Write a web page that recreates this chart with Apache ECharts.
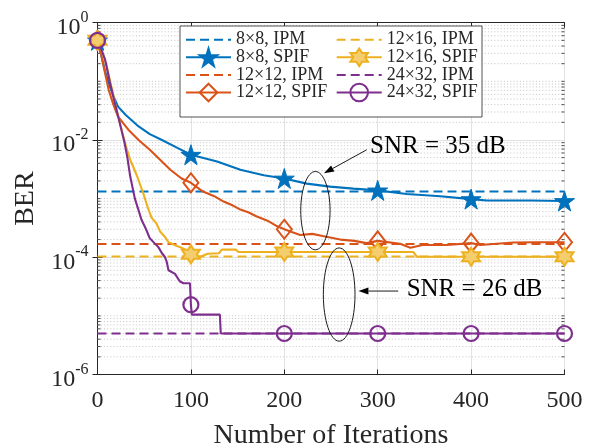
<!DOCTYPE html>
<html><head><meta charset="utf-8">
<script src="https://cdn.jsdelivr.net/npm/echarts@6/dist/echarts.min.js"></script>
<style>html,body{margin:0;padding:0;background:#fff;}#c{width:590px;height:447px;}</style>
</head><body><div id="c"></div>
<script>
// ---------- data ----------
const seriesNames = ['8×8, IPM','8×8, SPIF','12×12, IPM','12×12, SPIF','12×16, IPM','12×16, SPIF','24×32, IPM','24×32, SPIF'];
const xRange = [0, 500];
const xTicks = [0, 100, 200, 300, 400, 500];
const yTickExponents = [0, -2, -4, -6];
const markerIters = [0, 100, 200, 300, 400, 500];

const ipm8x8 = 1.32e-3;
const ipm12x12 = 1.68e-4;
const ipm12x16 = 1.03e-4;
const ipm24x32 = 5.0e-6;

const spif8x8Iter = [0,4,8,12,17,22,30,44,56,69,85,100,128,153,178,200,224,249,274,300,331,367,400,417,463,500];
const spif8x8Ber  = [0.5,0.28,0.15,0.093,0.056,0.037,0.027,0.017,0.0126,0.010,0.0074,0.0056,0.0043,0.0031,0.0025,0.0022,0.0018,0.0016,0.00148,0.00138,0.0012,0.0011,0.00098,0.00093,0.00093,0.00091];

const spif12x12Iter = [0,4,8,12,17,22,33,44,56,67,78,90,100,113,125,135,145,153,162,170,182,192,200,208,217,230,241,260,275,288,300,324,335,348,374,400,410,445,470,500];
const spif12x12Ber  = [0.5,0.28,0.14,0.071,0.040,0.025,0.015,0.010,0.0068,0.0046,0.0031,0.0022,0.00186,0.00132,0.0011,0.00089,0.00076,0.00065,0.00058,0.0005,0.00042,0.00034,0.0003,0.00027,0.00024,0.00025,0.00023,0.0002,0.00019,0.000174,0.00019,0.00017,0.000145,0.000162,0.000162,0.000174,0.000162,0.000178,0.00018,0.00018];

const spif12x16Iter = [0,5,10,15,20,25,30,35,42,49,54,58,63,67,72,76,85,90,96,100,110,118,130,133,148,151,200,300,338,342,400,500];
const spif12x16Ber  = [0.5,0.316,0.178,0.079,0.035,0.0166,0.0083,0.0046,0.0025,0.00123,0.00069,0.00047,0.00038,0.000275,0.000224,0.00018,0.000155,0.000145,0.000129,0.000112,0.000102,0.000115,0.000117,0.000135,0.000135,0.000123,0.000123,0.000123,0.000123,0.000102,0.000102,0.000102];

const spif24x32Iter = [0,4,8,13,19,24,29,32,35,40,44,47,52,56,61,65,69,72,74,76,78,83,88,92,99,100,101,131,132,200,300,400,500];
const spif24x32Ber  = [0.5,0.35,0.24,0.1,0.04,0.019,0.0089,0.005,0.0024,0.001,0.00063,0.00044,0.0003,0.00021,0.000174,0.00015,0.000117,0.000102,0.000085,0.00006,0.000057,0.000052,0.000039,0.000036,0.000036,0.0000155,0.0000105,0.0000105,0.000005,0.000005,0.000005,0.000005,0.000005];

// annotations (data coordinates)
const annoText35 = ['SNR = 35 dB', 291.8, 7.7e-3];
const annoText26 = ['SNR = 26 dB', 331, 2.8e-5];
const annoArrow35 = [[288.2, 6.8e-3], [242.5, 2.7e-3]];
const annoArrow26 = [[322, 2.65e-5], [279.4, 2.65e-5]];
const annoEllipse35 = [[217.6, 249], [2.9e-3, 1.34e-4]];
const annoEllipse26 = [[241.8, 275.7], [1.44e-4, 3.7e-6]];

// ---------- styling ----------
const FONT = 'Liberation Serif';
const TXT = '#262626';
const C = { blue: '#0072BD', orange: '#D95319', yellow: '#EDB120', purple: '#7E2F8E' };
const STAR = 'path://M50 0L61.2 34.5L97.6 34.5L68.2 55.9L79.4 90.5L50 69.1L20.6 90.5L31.8 55.9L2.4 34.5L38.8 34.5Z';
const HEX = 'path://M50 0L64.4 25L93.3 25L78.9 50L93.3 75L64.4 75L50 100L35.6 75L6.7 75L21.1 50L6.7 25L35.6 25Z';

function pairs(xs, ys) { return xs.map((x, i) => [x, ys[i]]); }
function withMarkers(xs, ys) {
  return xs.map((x, i) => markerIters.indexOf(x) >= 0 ? { value: [x, ys[i]] } : { value: [x, ys[i]], symbol: 'none' });
}
function ipmSeries(name, color, val) {
  return { name, type: 'line', z: 2, symbol: 'none', data: pairs(xRange, [val, val]),
    lineStyle: { color, width: 2, type: [9, 5] }, itemStyle: { color } };
}
function spifSeries(name, color, xs, ys, symbol, size, style) {
  return { name, type: 'line', z: 3, symbol, symbolSize: size, data: withMarkers(xs, ys),
    lineStyle: { color, width: 2.1 }, itemStyle: style };
}

// minor log ticks / dotted grid (2..9 x 10^k and odd decades)
const minorVals = [];
for (let e = -6; e < 0; e++) for (let m = 1; m <= 9; m++) {
  if (m === 1 && e % 2 === 0) continue;
  minorVals.push([0, m * Math.pow(10, e)]);
}
function renderMinor(params, api) {
  const cs = params.coordSys;
  const y = api.coord([0, api.value(1)])[1];
  const x0 = cs.x, x1 = cs.x + cs.width;
  return { type: 'group', children: [
    { type: 'line', shape: { x1: x0, y1: y, x2: x1, y2: y }, style: { stroke: '#b5b5b5', lineWidth: 0.8, lineDash: [1, 2.2] } },
    { type: 'line', shape: { x1: x0, y1: y, x2: x0 + 3, y2: y }, style: { stroke: TXT, lineWidth: 0.8 } },
    { type: 'line', shape: { x1: x1 - 3, y1: y, x2: x1, y2: y }, style: { stroke: TXT, lineWidth: 0.8 } }
  ]};
}

const chart = echarts.init(document.getElementById('c'), null, { renderer: 'canvas' });
const axisLine = { show: true, lineStyle: { color: TXT, width: 1 } };
const tick = { show: true, inside: true, length: 5, lineStyle: { color: TXT, width: 1 } };

const option = {
  animation: false,
  backgroundColor: '#fff',
  grid: { left: 97.5, right: 25.5, top: 22.7, bottom: 72.5, containLabel: false, outerBoundsMode: 'none' },
  xAxis: [
    { type: 'value', min: xRange[0], max: xRange[1], interval: 100, position: 'bottom',
      axisLine, axisTick: tick,
      axisLabel: { fontFamily: FONT, fontSize: 24, color: TXT, margin: 14 },
      splitLine: { show: true, lineStyle: { color: '#e2e2e2', width: 1 } },
      name: 'Number of Iterations', nameLocation: 'middle', nameGap: 47,
      nameTextStyle: { fontFamily: FONT, fontSize: 28, color: TXT } },
    { type: 'value', min: xRange[0], max: xRange[1], interval: 100, position: 'top',
      axisLine, axisTick: tick, axisLabel: { show: false }, splitLine: { show: false } }
  ],
  yAxis: [
    { type: 'log', logBase: 10, min: 1e-6, max: 1, interval: 2, position: 'left',
      axisLine, axisTick: tick,
      axisLabel: { margin: 9,
        formatter: v => { const e = Math.round(Math.log10(v)); return yTickExponents.indexOf(e) >= 0 ? '{b|10}{s|' + e + '}' : ''; },
        rich: { b: { fontFamily: FONT, fontSize: 24, color: TXT, padding: [10, 0, 0, 0] },
                s: { fontFamily: FONT, fontSize: 16, color: TXT, padding: [0, 0, 10, 0] } } },
      splitLine: { show: true, lineStyle: { color: '#e2e2e2', width: 1 } },
      minorTick: { show: false }, minorSplitLine: { show: false },
      name: 'BER', nameLocation: 'middle', nameGap: 58, nameRotate: 90,
      nameTextStyle: { fontFamily: FONT, fontSize: 28, color: TXT } },
    { type: 'log', logBase: 10, min: 1e-6, max: 1, interval: 2, position: 'right',
      axisLine, axisTick: tick, axisLabel: { show: false }, splitLine: { show: false } }
  ],
  legend: [
    { orient: 'vertical', left: 185, top: 30.7, padding: 0, itemGap: -1.2, itemWidth: 45, itemHeight: 22, z: 10,
      selectedMode: false, textStyle: { fontFamily: FONT, fontSize: 18, color: TXT },
      data: [{ name: seriesNames[0], itemStyle: { opacity: 0 } }, { name: seriesNames[1] },
             { name: seriesNames[2], itemStyle: { opacity: 0 } }, { name: seriesNames[3] }] },
    { orient: 'vertical', left: 335.7, top: 30.7, padding: 0, itemGap: -1.2, itemWidth: 45, itemHeight: 22, z: 10,
      selectedMode: false, textStyle: { fontFamily: FONT, fontSize: 18, color: TXT },
      data: [{ name: seriesNames[4], itemStyle: { opacity: 0 } }, { name: seriesNames[5] },
             { name: seriesNames[6], itemStyle: { opacity: 0 } }, { name: seriesNames[7] }] }
  ],
  series: [
    { type: 'custom', name: 'minor', silent: true, z: 1, renderItem: renderMinor, data: minorVals, encode: { x: 0, y: 1 }, clip: false },
    ipmSeries(seriesNames[0], C.blue, ipm8x8),
    ipmSeries(seriesNames[2], C.orange, ipm12x12),
    ipmSeries(seriesNames[4], C.yellow, ipm12x16),
    ipmSeries(seriesNames[6], C.purple, ipm24x32),
    spifSeries(seriesNames[1], C.blue, spif8x8Iter, spif8x8Ber, STAR, 20, { color: C.blue, borderColor: C.blue, borderWidth: 1 }),
    spifSeries(seriesNames[3], C.orange, spif12x12Iter, spif12x12Ber, 'diamond', [15, 19], { color: 'rgba(255,255,255,0)', borderColor: C.orange, borderWidth: 2 }),
    spifSeries(seriesNames[5], C.yellow, spif12x16Iter, spif12x16Ber, HEX, 18, { color: '#f3cd6e', borderColor: C.yellow, borderWidth: 2 }),
    spifSeries(seriesNames[7], C.purple, spif24x32Iter, spif24x32Ber, 'circle', 15, { color: 'rgba(255,255,255,0)', borderColor: C.purple, borderWidth: 2.2 })
  ]
};
chart.setOption(option);

// ---------- annotations placed through the chart's own scales ----------
const P = (x, y) => chart.convertToPixel({ xAxisIndex: 0, yAxisIndex: 0 }, [x, y]);
function arrow(a) {
  const p0 = P(a[0][0], a[0][1]), p1 = P(a[1][0], a[1][1]);
  const dx = p1[0] - p0[0], dy = p1[1] - p0[1], L = Math.hypot(dx, dy), ux = dx / L, uy = dy / L;
  const hl = 10, hw = 3.5;
  const bx = p1[0] - ux * hl, by = p1[1] - uy * hl;
  return [
    { type: 'line', z: 20, silent: true, shape: { x1: p0[0], y1: p0[1], x2: bx, y2: by }, style: { stroke: '#000', lineWidth: 0.9 } },
    { type: 'polygon', z: 20, silent: true, shape: { points: [[p1[0], p1[1]], [bx - uy * hw, by + ux * hw], [bx + uy * hw, by - ux * hw]] }, style: { fill: '#000' } }
  ];
}
function ellipse(e) {
  const a = P(e[0][0], e[1][0]), b = P(e[0][1], e[1][1]);
  return { type: 'ellipse', z: 20, silent: true,
    shape: { cx: (a[0] + b[0]) / 2, cy: (a[1] + b[1]) / 2, rx: Math.abs(b[0] - a[0]) / 2, ry: Math.abs(b[1] - a[1]) / 2 },
    style: { fill: 'none', stroke: '#000', lineWidth: 0.9 } };
}
function label(t) {
  const p = P(t[1], t[2]);
  return { type: 'text', z: 20, silent: true, x: p[0], y: p[1],
    style: { text: t[0], fontFamily: FONT, fontSize: 25, fill: '#000', verticalAlign: 'middle', align: 'left' } };
}
const legendBox = { type: 'rect', z: 8, silent: true, shape: { x: 180, y: 26, width: 302, height: 91 },
  style: { fill: '#fff', stroke: TXT, lineWidth: 0.8 } };
chart.setOption({ graphic: [legendBox, ellipse(annoEllipse35), ellipse(annoEllipse26),
  ...arrow(annoArrow35), ...arrow(annoArrow26), label(annoText35), label(annoText26)] });
</script></body></html>
